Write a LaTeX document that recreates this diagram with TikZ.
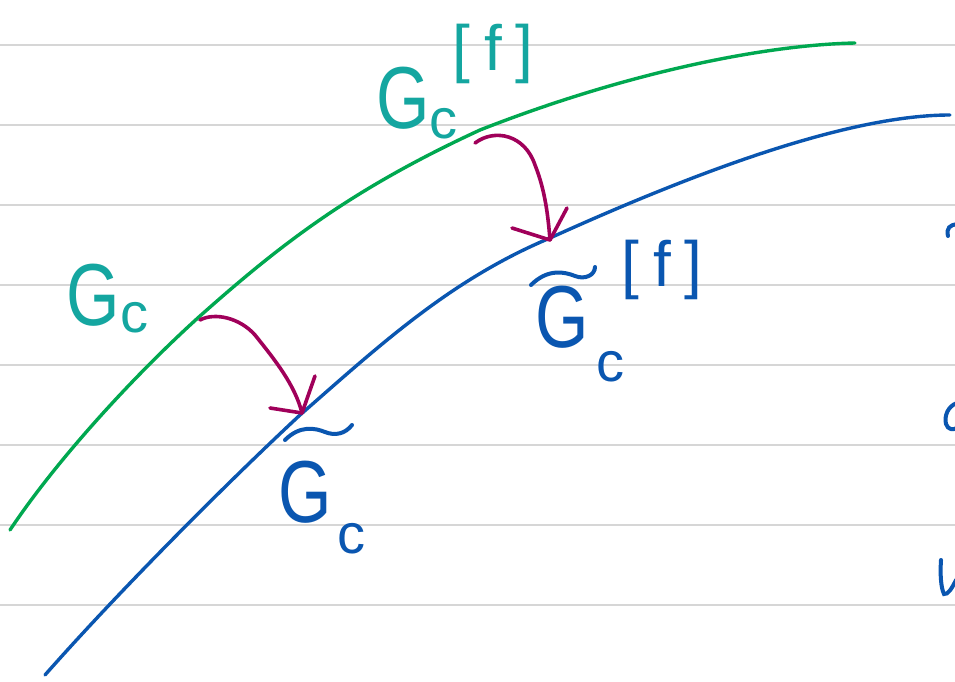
\documentclass[tikz,border=0pt]{standalone}
\usepackage{graphicx}
\usepackage{fontspec}
\setmainfont{Liberation Sans}
\definecolor{rule}{RGB}{214,214,214}
\definecolor{gcurve}{RGB}{0,168,80}
\definecolor{tealtxt}{RGB}{20,166,160}
\definecolor{bcurve}{RGB}{10,86,176}
\definecolor{arr}{RGB}{160,0,90}
\newcommand{\narrow}[1]{\scalebox{0.78}[1]{#1}}
\tikzset{
  ruleline/.style={rule, line width=2.5pt},
  curve/.style={line width=3.4pt, line cap=round, line join=round},
  bigG/.style={inner sep=0pt, font=\fontsize{88}{88}\selectfont},
  subc/.style={inner sep=0pt, font=\fontsize{56}{56}\selectfont},
  supf/.style={inner sep=0pt, font=\fontsize{64}{64}\selectfont},
  hook/.style={arr, line width=3.6pt, line cap=round, line join=round},
  tld/.style={bcurve, line width=4pt, line cap=round},
}
\begin{document}
\begin{tikzpicture}[x=1pt,y=-1pt]
\useasboundingbox (0,0) rectangle (955,682);
\fill[white] (0,0) rectangle (955,682);
% ruled lines
\foreach \yy in {45,125,205,285,365,445,525,605}
  \draw[ruleline] (0,\yy) -- (955,\yy);
% green curve
\draw[curve, gcurve] (10,530) .. controls (60,455) and (140,370) .. (200,316)
  .. controls (280,245) and (350,190) .. (480,130)
  .. controls (620,75) and (760,45) .. (855,43);
% blue curve
\draw[curve, bcurve] (45,675) .. controls (120,590) and (230,480) .. (300,415)
  .. controls (380,345) and (450,280) .. (550,238)
  .. controls (700,170) and (850,115) .. (950,115);
% labels teal
\node[bigG, tealtxt] (g1) at (93,295) {\narrow{G}};
\node[subc, tealtxt] (c1) at (134,318) {c};
\node[bigG, tealtxt] (g2) at (403,98) {\narrow{G}};
\node[subc, tealtxt] (c2) at (443,124) {c};
\node[supf, tealtxt] (f2) at (493,54) {[\hspace{14pt}f\hspace{14pt}]};
% labels blue
\node[bigG, bcurve] (g3) at (305,492) {\narrow{G}};
\node[subc, bcurve] (c3) at (351,539) {c};
\node[bigG, bcurve] (g4) at (562,317) {\narrow{G}};
\node[subc, bcurve] (c4) at (610,367) {c};
\node[supf, bcurve] (f4) at (662,270) {[\hspace{14pt}f\hspace{14pt}]};
% tildes
\draw[tld] (285,440) .. controls (300,425) and (315,428) .. (325,432) .. controls (335,436) and (345,434) .. (352,425);
\draw[tld] (531,285) .. controls (548,268) and (565,272) .. (575,276) .. controls (585,280) and (595,275) .. (595,267);
% arrows
\coordinate (a1s) at (200,320);
\coordinate (a1e) at (302,413);
\draw[hook] (a1s) .. controls (215,312) and (240,318) .. (255,335) .. controls (275,360) and (295,385) .. (a1e);
\draw[hook] (270,408) -- (a1e) -- (315,376);
\coordinate (a2s) at (475,143);
\coordinate (a2e) at (550,240);
\draw[hook] (a2s) .. controls (495,128) and (525,135) .. (535,165) .. controls (545,190) and (548,215) .. (a2e);
\draw[hook] (512,228) -- (a2e) -- (567,208);
% cut-off letters at right edge
\draw[tld] (948,236) .. controls (946,228) and (950,225) .. (957,224);
\draw[tld] (957,403) .. controls (948,406) and (944,416) .. (946,424) .. controls (948,430) and (953,430) .. (957,428);
\draw[tld] (941,560) .. controls (940,575) and (941,588) .. (944,594) .. controls (948,595) and (952,588) .. (956,580);
\end{tikzpicture}
\end{document}
